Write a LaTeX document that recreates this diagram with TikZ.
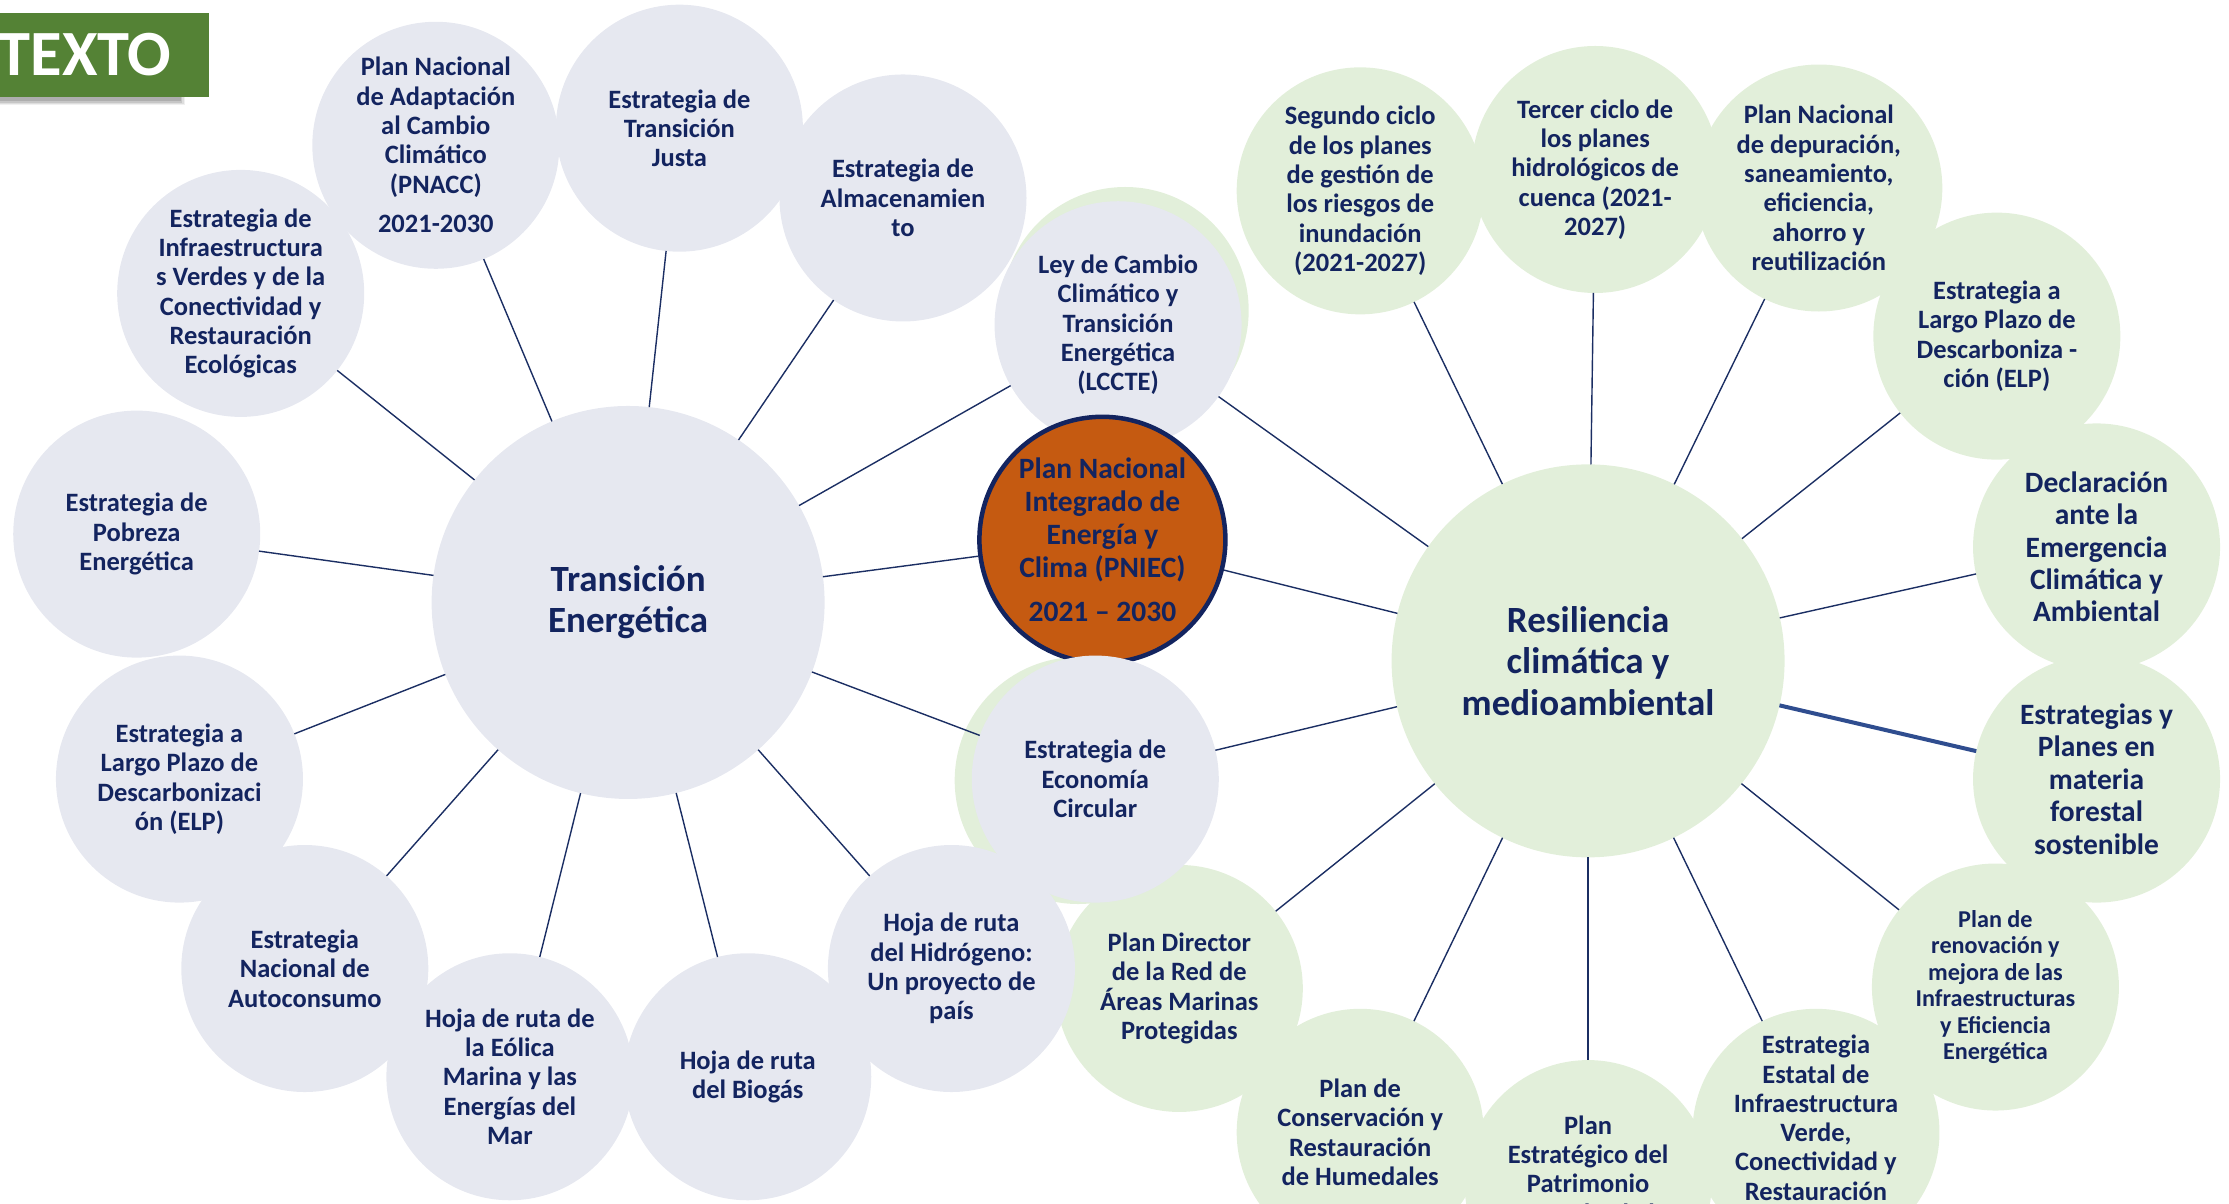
\documentclass[tikz,border=0pt]{standalone}
\usepackage{fontspec}
\setmainfont{Carlito}
\definecolor{navy}{HTML}{13245F}
\definecolor{grayfill}{HTML}{E6E8F0}
\definecolor{greenfill}{HTML}{E2EFDA}
\definecolor{orangefill}{HTML}{C55A11}
\definecolor{boxgreen}{HTML}{548235}
\definecolor{linecol}{HTML}{1B2E63}
\definecolor{thickcol}{HTML}{2F4D8F}
\tikzset{
  base/.style={circle, inner sep=-30pt, outer sep=0pt, align=center, text=navy,
    font=\bfseries\fontsize{26.5}{29.3}\selectfont},
  sat/.style={base, minimum size=247pt},
  graysat/.style={sat, fill=grayfill},
  greensat/.style={sat, fill=greenfill},
  backcirc/.style={circle, fill=greenfill, minimum size=247pt, inner sep=0pt, outer sep=0pt},
  hub/.style={base, minimum size=393pt, font=\bfseries\fontsize{37}{41.3}\selectfont},
  link/.style={draw=linecol, line width=1.4pt},
  thicklink/.style={draw=thickcol, line width=4pt}
}
\begin{document}
\begin{tikzpicture}[x=1.4243pt,y=-1.4243pt]
\useasboundingbox (0,0) rectangle (1565,845.3);

% TEXTO box with shadow
\foreach \o/\a in {4/0.06,3/0.08,2/0.10,1/0.12}{
  \fill[black, opacity=\a] (-2,12) rectangle (126+\o,70+\o);
}
\node[fill=boxgreen, minimum width=149*1.4243pt, minimum height=59*1.4243pt,
      inner sep=0pt, outer sep=0pt, anchor=north west] (textobox) at (-2,9.1) {};
\node[anchor=base west, inner sep=0pt, text=white,
      font=\bfseries\fontsize{64.5}{64.5}\selectfont] (texto) at (-1,53) {TEXTO};

% green backing circles
\node[backcirc] (lcctebk) at (790,218) {};
\node[backcirc] (econbk) at (757,548) {};

% right (green) satellites
\node[greensat] (segundo) at (955,134) {Segundo ciclo\\de los planes\\de gestión de\\los riesgos de\\inundación\\(2021-2027)};
\node[greensat] (tercer) at (1120,119) {Tercer ciclo de\\los planes\\hidrológicos de\\cuenca (2021-\\2027)};
\node[greensat] (depur) at (1277,132) {Plan Nacional\\de depuración,\\saneamiento,\\eficiencia,\\ahorro y\\reutilización};
\node[greensat] (elpR) at (1402,236) {Estrategia a\\Largo Plazo de\\Descarboniza -\\ción (ELP)};
\node[greensat, font=\bfseries\fontsize{29.5}{32.4}\selectfont] (decl) at (1472,384) {Declaración\\ante la\\Emergencia\\Climática y\\Ambiental};
\node[greensat, font=\bfseries\fontsize{29.5}{32.4}\selectfont] (forest) at (1472,547) {Estrategias y\\Planes en\\materia\\forestal\\sostenible};
\node[greensat, font=\bfseries\fontsize{24.2}{26.5}\selectfont] (renov) at (1401,693) {Plan de\\renovación y\\mejora de las\\Infraestructuras\\y Eficiencia\\Energética};
\node[greensat] (estatal) at (1275,795) {Estrategia\\Estatal de\\Infraestructura\\Verde,\\Conectividad y\\Restauración\\\phantom{X}};
\node[greensat] (patrim) at (1115,831) {Plan\\Estratégico del\\Patrimonio\\Natural y de la\\\phantom{X}};
\node[greensat] (humed) at (955,795) {Plan de\\Conservación y\\Restauración\\de Humedales};
\node[greensat] (director) at (828,694) {Plan Director\\de la Red de\\Áreas Marinas\\Protegidas};
\node[hub, fill=greenfill] (resil) at (1115,464) {Resiliencia\\climática y\\medioambiental};

% left (gray) satellites
\node[graysat] (pnacc) at (306,102) {Plan Nacional\\de Adaptación\\al Cambio\\Climático\\(PNACC)\\[10.5pt]2021-2030};
\node[graysat] (justa) at (477,90) {Estrategia de\\Transición\\Justa};
\node[graysat] (almac) at (634,139) {Estrategia de\\Almacenamien\\to};
\node[graysat] (infra) at (169,206) {Estrategia de\\Infraestructura\\s Verdes y de la\\Conectividad y\\Restauración\\Ecológicas};
\node[graysat] (pobreza) at (96,375) {Estrategia de\\Pobreza\\Energética};
\node[graysat] (elpL) at (126,547) {Estrategia a\\Largo Plazo de\\Descarbonizaci\\ón (ELP)};
\node[graysat] (autoc) at (214,680) {Estrategia\\Nacional de\\Autoconsumo};
\node[graysat] (eolica) at (358,756) {Hoja de ruta de\\la Eólica\\Marina y las\\Energías del\\Mar};
\node[graysat] (biogas) at (525,756) {Hoja de ruta\\del Biogás};
\node[graysat] (hidro) at (668,680) {Hoja de ruta\\del Hidrógeno:\\Un proyecto de\\país};
\node[hub, fill=grayfill] (trans) at (441,423) {Transición\\Energética};
\node[graysat] (lccte) at (785,228) {Ley de Cambio\\Climático y\\Transición\\Energética\\(LCCTE)};

% central node
\node[base, minimum size=246pt, fill=orangefill, draw=navy, line width=4.5pt, outer sep=2.25pt,
      font=\bfseries\fontsize{29.5}{32.8}\selectfont] (pniec) at (774,379)
  {Plan Nacional\\Integrado de\\Energía y\\Clima (PNIEC)\\[11pt]2021 – 2030};

\node[graysat] (econ) at (769,547) {Estrategia de\\Economía\\Circular};

% connectors: Transición Energética
\foreach \t in {pnacc,justa,almac,infra,pobreza,elpL,autoc,eolica,biogas,hidro,lccte,pniec,econ}{
  \draw[link] (trans) -- (\t);
}
% connectors: Resiliencia
\foreach \t in {lccte,pniec,econ,director,humed,patrim,estatal,renov,decl,elpR,depur,tercer,segundo}{
  \draw[link] (resil) -- (\t);
}
\draw[thicklink] (resil) -- (forest);
\end{tikzpicture}
\end{document}
